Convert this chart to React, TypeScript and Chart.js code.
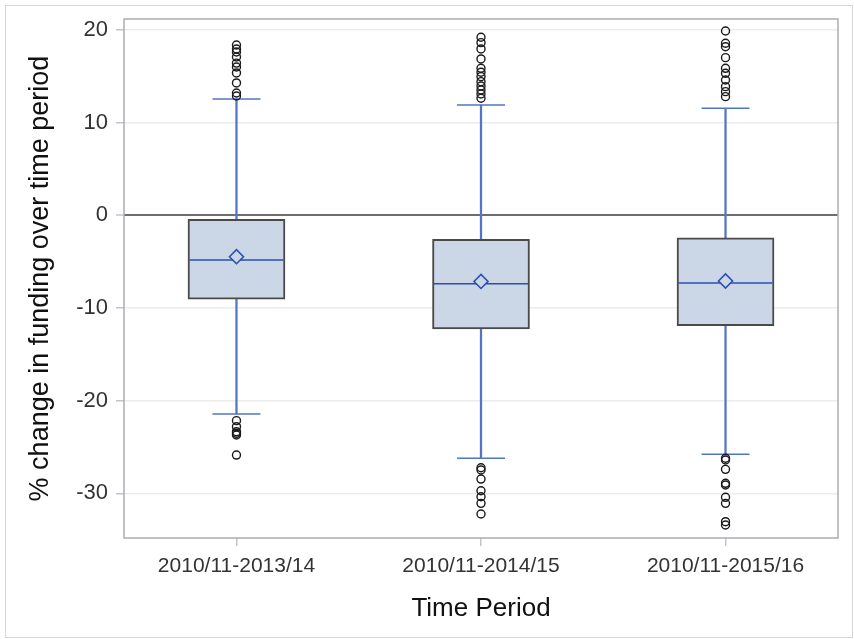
import { useEffect, useRef } from 'react';
import { Chart, registerables } from 'chart.js';

Chart.register(...registerables);

// categories on a numeric axis (1, 2, 3)
const periods = ['2010/11-2013/14', '2010/11-2014/15', '2010/11-2015/16'];
const positions = [1, 2, 3];

// box statistics
const q1 = [-9.06, -12.27, -11.9];
const q3 = [-0.43, -2.59, -2.42];
const medians = [-4.82, -7.39, -7.31];
const means = [-4.47, -7.14, -7.09];
const whiskerLow = [-21.44, -26.22, -25.79];
const whiskerHigh = [12.55, 11.9, 11.55];

const outliers1 = [18.38, 17.94, 17.62, 17.08, 16.42, 16.0, 15.36, 14.28, 13.19, 12.87,
  -22.16, -22.81, -23.35, -23.53, -23.71, -25.87];
const outliers2 = [19.21, 18.63, 17.95, 16.87, 15.86, 15.43, 14.96, 14.42, 13.95, 13.52, 13.09, 12.63,
  -27.24, -27.48, -28.46, -29.72, -30.37, -31.08, -32.23];
const outliers3 = [19.89, 18.56, 18.19, 17.01, 15.86, 15.32, 14.6, 13.88, 13.34, 12.8,
  -26.22, -26.4, -27.41, -28.92, -29.1, -30.43, -31.08, -33.06, -33.42];
const outliers = [outliers1, outliers2, outliers3];

const yTicks = [-30, -20, -10, 0, 10, 20];

const FONT = '"Liberation Sans", Arial, sans-serif';
const BLUE = '#5275c4';
const DARK_BLUE = '#2b4fb0';
const BOX_FILL = '#cbd6e6';

// frame around the plot area
const framePlugin = {
  id: 'frame',
  beforeDatasetsDraw(chart: Chart) {
    const { ctx, chartArea } = chart;
    ctx.save();
    ctx.strokeStyle = '#a9aeb5';
    ctx.lineWidth = 1.5;
    ctx.strokeRect(chartArea.left, chartArea.top, chartArea.right - chartArea.left, chartArea.bottom - chartArea.top);
    ctx.restore();
  },
};

export default function App() {
  const canvasRef = useRef<HTMLCanvasElement>(null);

  useEffect(() => {
    document.body.style.margin = '0';
    if (!canvasRef.current) return;

    const boxData = positions.map((x, i) => ({ x, y: [q1[i], q3[i]] }));
    const upperWhisker = positions.map((x, i) => ({ x, y: [q3[i], whiskerHigh[i]] }));
    const lowerWhisker = positions.map((x, i) => ({ x, y: [whiskerLow[i], q1[i]] }));
    const caps = positions.flatMap((x, i) => [{ x, y: whiskerLow[i] }, { x, y: whiskerHigh[i] }]);
    const medianPts = positions.map((x, i) => ({ x, y: medians[i] }));
    const meanPts = positions.map((x, i) => ({ x, y: means[i] }));
    const outlierPts = positions.flatMap((x, i) => outliers[i].map(y => ({ x, y })));

    const chart = new Chart(canvasRef.current, {
      type: 'bar',
      data: {
        datasets: [
          {
            type: 'line',
            data: outlierPts,
            showLine: false,
            pointStyle: 'circle',
            pointRadius: 4,
            pointBorderWidth: 1.4,
            pointBorderColor: '#1a1a1a',
            pointBackgroundColor: 'rgba(0,0,0,0)',
            order: 1,
          },
          {
            type: 'line',
            data: meanPts,
            showLine: false,
            pointStyle: 'rectRot',
            pointRadius: 7,
            pointBorderWidth: 1.6,
            pointBorderColor: DARK_BLUE,
            pointBackgroundColor: BOX_FILL,
            order: 1,
          },
          {
            type: 'line',
            data: medianPts,
            showLine: false,
            pointStyle: 'line',
            pointRadius: 47,
            pointBorderWidth: 1.6,
            pointBorderColor: DARK_BLUE,
            order: 2,
          },
          {
            type: 'line',
            data: caps,
            showLine: false,
            pointStyle: 'line',
            pointRadius: 24,
            pointBorderWidth: 1.6,
            pointBorderColor: BLUE,
            order: 3,
          },
          {
            type: 'bar',
            data: boxData as any,
            backgroundColor: BOX_FILL,
            borderColor: '#4a4a4a',
            borderWidth: 2,
            borderSkipped: false,
            barThickness: 97,
            grouped: false,
            order: 4,
          },
          {
            type: 'bar',
            data: upperWhisker as any,
            backgroundColor: BLUE,
            borderWidth: 0,
            barThickness: 1.6,
            grouped: false,
            order: 5,
          },
          {
            type: 'bar',
            data: lowerWhisker as any,
            backgroundColor: BLUE,
            borderWidth: 0,
            barThickness: 1.6,
            grouped: false,
            order: 5,
          },
        ],
      },
      options: {
        animation: false,
        responsive: true,
        maintainAspectRatio: false,
        layout: { autoPadding: false, padding: { left: 0, top: 19, right: 16, bottom: 0 } },
        plugins: {
          legend: { display: false },
          tooltip: { enabled: false },
        },
        scales: {
          x: {
            type: 'linear',
            offset: false,
            min: 0.54,
            max: 3.46,
            afterBuildTicks: (scale: any) => {
              scale.ticks = positions.map(v => ({ value: v }));
            },
            afterFit: (scale: any) => {
              scale.height = 101;
              scale.paddingLeft = 0;
              scale.paddingRight = 0;
              scale.paddingTop = 0;
              scale.paddingBottom = 0;
            },
            ticks: {
              callback: (v: any) => periods[Number(v) - 1] ?? '',
              color: '#333',
              font: { family: FONT, size: 21 },
              padding: 8,
              maxRotation: 0,
              autoSkip: false,
            },
            grid: {
              drawOnChartArea: false,
              drawTicks: true,
              offset: false,
              tickLength: 8,
              tickColor: '#c4c4c4',
              lineWidth: 1.5,
            },
            border: { display: false },
            title: {
              display: true,
              text: 'Time Period',
              color: '#111',
              font: { family: FONT, size: 26 },
              padding: { top: 0, bottom: 15 },
            },
          },
          y: {
            type: 'linear',
            min: -34.82,
            max: 21.18,
            afterBuildTicks: (scale: any) => {
              scale.ticks = yTicks.map(v => ({ value: v }));
            },
            afterFit: (scale: any) => {
              scale.width = 124;
              scale.paddingLeft = 0;
              scale.paddingRight = 0;
              scale.paddingTop = 0;
              scale.paddingBottom = 0;
            },
            ticks: {
              color: '#333',
              font: { family: FONT, size: 22 },
              padding: 8,
            },
            grid: {
              color: (ctx: any) => (ctx.tick && ctx.tick.value === 0 ? '#6e6e6e' : '#ececec'),
              lineWidth: (ctx: any) => (ctx.tick && ctx.tick.value === 0 ? 2 : 1.5),
              tickLength: 8,
              tickColor: '#c4c4c4',
              tickWidth: 1.5,
            },
            border: { display: false },
            title: {
              display: true,
              text: '% change in funding over time period',
              color: '#111',
              font: { family: FONT, size: 27 },
              padding: { top: 24, bottom: 0 },
            },
          },
        },
      },
      plugins: [framePlugin],
    });

    return () => chart.destroy();
  }, []);

  return (
    <div style={{ position: 'relative', width: 854, height: 639, background: '#fff' }}>
      <canvas ref={canvasRef} />
      <div
        style={{
          position: 'absolute',
          left: 5,
          top: 5,
          width: 846,
          height: 631,
          border: '1px solid #d6d6d6',
          pointerEvents: 'none',
        }}
      />
    </div>
  );
}
